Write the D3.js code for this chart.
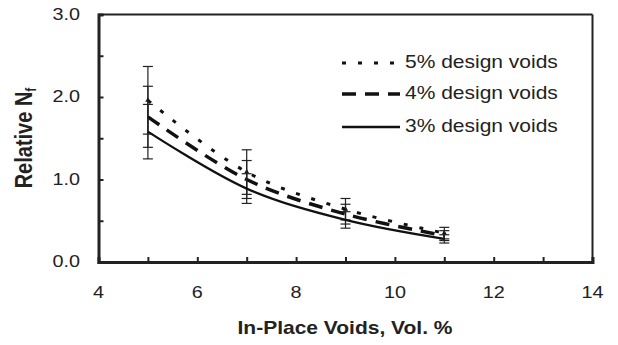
<!DOCTYPE html>
<html><head><meta charset="utf-8">
<script src="https://cdn.jsdelivr.net/npm/d3@7"></script>
<style>body{margin:0;background:#fff}svg{display:block}text{font-family:"Liberation Sans",Arial,sans-serif;fill:#222}</style>
</head><body><svg id="c" width="618" height="345"></svg>
<script>
const xVals = [5, 7, 9, 11];
const seriesNames = ["5% design voids", "4% design voids", "3% design voids"];
const v5 = [1.96, 1.09, 0.64, 0.35];
const v4 = [1.76, 1.00, 0.58, 0.32];
const v3 = [1.58, 0.89, 0.51, 0.28];
const e5 = [0.41, 0.27, 0.13, 0.07];
const e4 = [0.37, 0.23, 0.12, 0.06];
const e3 = [0.33, 0.18, 0.10, 0.05];
const xTickLabels = [4, 6, 8, 10, 12, 14];
const yTickLabels = [0, 1, 2, 3];
const xMinorTicks = [4,5,6,7,8,9,10,11,12,13,14];
const yMinorTicks = [0,0.5,1,1.5,2,2.5,3];

const svg = d3.select("#c");
const x = d3.scaleLinear().domain([4, 14]).range([98.5, 592.5]);
const y = d3.scaleLinear().domain([0, 3]).range([262, 14.5]);
const SX = 1.2; // horizontal stretch of text in reference

function stext(g, px, py, str, opts) {
  const t = g.append("g").attr("transform", `translate(${px},${py}) scale(${SX},1)`)
    .append("text").attr("text-anchor", opts.anchor || "start")
    .attr("font-size", opts.size).attr("font-weight", opts.weight || "normal")
    .attr("dominant-baseline", opts.baseline || "auto").text(str);
  return t;
}

// frame top/right
svg.append("line").attr("x1", x(4)).attr("x2", x(14)).attr("y1", y(3)).attr("y2", y(3)).attr("stroke", "#222").attr("stroke-width", 2);
svg.append("line").attr("x1", x(14)).attr("x2", x(14)).attr("y1", y(3)).attr("y2", y(0)).attr("stroke", "#222").attr("stroke-width", 2);

// axes (ticks inside)
const yAxis = d3.axisRight(y).tickValues(yMinorTicks).tickSize(5).tickFormat("");
const gy = svg.append("g").attr("transform", `translate(${x(4)},0)`).call(yAxis);
gy.select(".domain").attr("stroke", "#222").attr("stroke-width", 3);
gy.selectAll(".tick line").attr("stroke", "#222").attr("stroke-width", 2);

const xAxis = d3.axisTop(x).tickValues(xMinorTicks).tickSize(5).tickFormat("");
const gx = svg.append("g").attr("transform", `translate(0,${y(0)})`).call(xAxis);
gx.select(".domain").attr("stroke", "#222").attr("stroke-width", 3);
gx.selectAll(".tick line").attr("stroke", "#222").attr("stroke-width", 2);

// tick labels
yTickLabels.forEach(v => stext(svg, 80, y(v), d3.format(".1f")(v), {anchor: "end", size: 16.5, baseline: "central"}));
xTickLabels.forEach(v => stext(svg, x(v), 298, String(v), {anchor: "middle", size: 16.5}));

// axis titles
stext(svg, 345, 334, "In-Place Voids, Vol. %", {anchor: "middle", size: 17.5, weight: "bold"});
const yt = svg.append("g").attr("transform", "translate(32,138) rotate(-90) scale(1,1.2)")
  .append("text").attr("text-anchor", "middle").attr("font-size", 20).attr("font-weight", "bold");
yt.append("tspan").text("Relative N");
yt.append("tspan").attr("font-size", 12).attr("dy", 3).text("f");

// series
const series = [
  {name: seriesNames[0], vals: v5, errs: e5, dash: "4,12", w: 3, marker: true},
  {name: seriesNames[1], vals: v4, errs: e4, dash: "14,9", w: 3.5, marker: false},
  {name: seriesNames[2], vals: v3, errs: e3, dash: null, w: 2.3, marker: false}
];
const line = d3.line().x(d => x(d[0])).y(d => y(d[1])).curve(d3.curveCatmullRom.alpha(0.5));

series.forEach(s => {
  const pts = xVals.map((xv, i) => [xv, s.vals[i], s.errs[i]]);
  const eg = svg.append("g").attr("stroke", "#222").attr("stroke-width", 1.2);
  pts.forEach(p => {
    eg.append("line").attr("x1", x(p[0])).attr("x2", x(p[0])).attr("y1", y(p[1] - p[2])).attr("y2", y(p[1] + p[2]));
    [p[1] - p[2], p[1] + p[2]].forEach(yy => eg.append("line").attr("x1", x(p[0]) - 5).attr("x2", x(p[0]) + 5).attr("y1", y(yy)).attr("y2", y(yy)));
  });
  svg.append("path").datum(pts).attr("d", line).attr("fill", "none").attr("stroke", "#111")
    .attr("stroke-width", s.w).attr("stroke-dasharray", s.dash);
  if (s.marker) {
    svg.append("g").selectAll("path").data(pts).join("path")
      .attr("d", d3.symbol(d3.symbolTriangle, 12))
      .attr("transform", d => `translate(${x(d[0])},${y(d[1])})`).attr("fill", "#111");
  }
});

// legend
const legY = [63, 94, 127];
const txtY = [68, 99, 132];
series.forEach((s, i) => {
  svg.append("line").attr("x1", 342).attr("x2", 400).attr("y1", legY[i]).attr("y2", legY[i])
    .attr("stroke", "#111").attr("stroke-width", s.w).attr("stroke-dasharray", s.dash);
  stext(svg, 405, txtY[i], s.name, {size: 17.5});
});
</script></body></html>
